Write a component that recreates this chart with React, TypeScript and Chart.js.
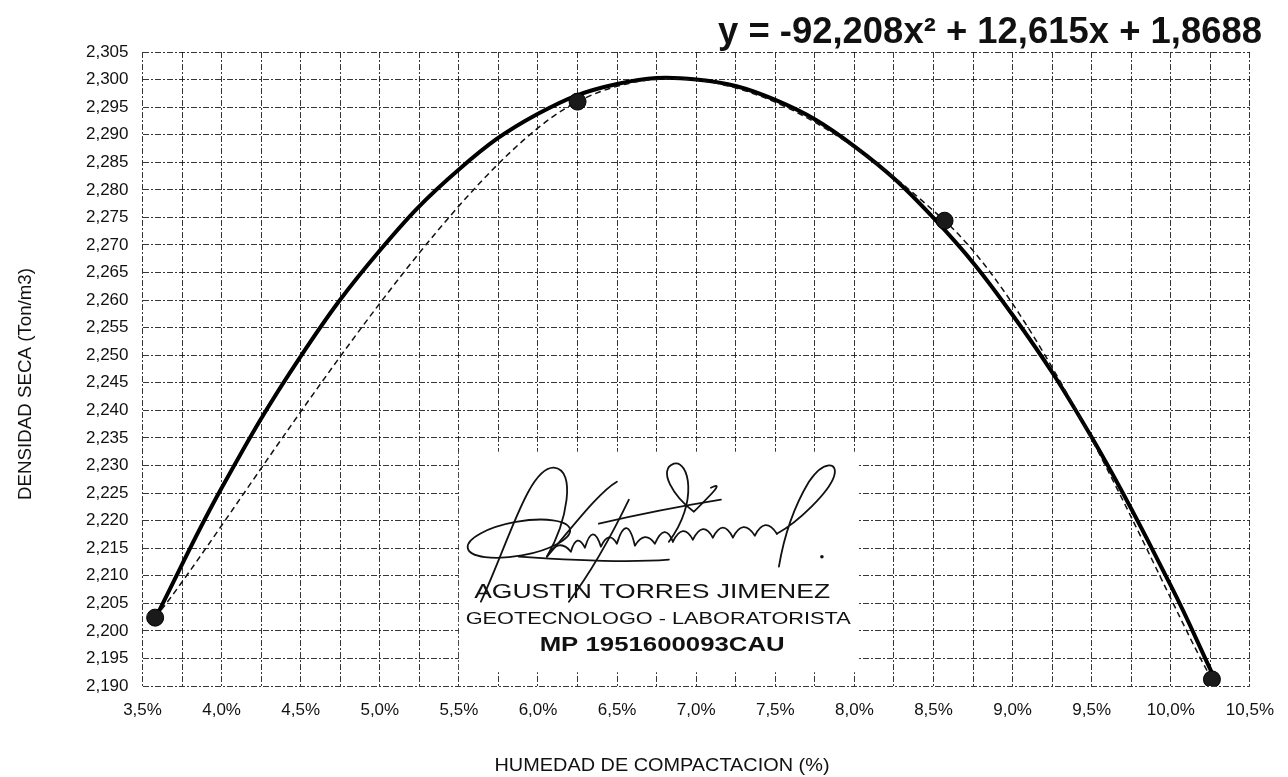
import React, { useEffect, useRef } from "react";
import { Chart, registerables } from "chart.js";

Chart.register(...registerables);

// Measured points (humedad %, densidad seca)
const humedad = [3.58, 6.25, 8.57, 10.26];
const densidad = [2.2024, 2.296, 2.2744, 2.1912];

// Polynomial trendline
const trendX = [3.58, 4.0, 4.5, 5.0, 5.5, 6.0, 6.5, 7.0, 7.5, 8.0, 8.5, 9.0, 9.5, 10.0, 10.26];
const trendY = [2.2022, 2.2259, 2.2498, 2.269, 2.2837, 2.2938, 2.2992, 2.3, 2.2963, 2.2879, 2.2749, 2.2573, 2.2351, 2.2082, 2.1924];

const xMin = 3.5;
const xMax = 10.5;
const xStep = 0.25;
const yMin = 2.19;
const yMax = 2.305;
const yStep = 0.005;

const equationText = "y = -92,208x² + 12,615x + 1,8688";
const xTitle = "HUMEDAD DE COMPACTACION (%)";
const yTitle = "DENSIDAD SECA (Ton/m3)";
const stampLines = ["AGUSTIN TORRES JIMENEZ", "GEOTECNOLOGO - LABORATORISTA", "MP 1951600093CAU"];

const FONT = "'Liberation Sans', Arial, sans-serif";

function fitText(ctx: CanvasRenderingContext2D, text: string, cx: number, by: number, width: number, font: string) {
  ctx.save();
  ctx.font = font;
  const w = ctx.measureText(text).width;
  ctx.translate(cx, by);
  ctx.scale(width / w, 1);
  ctx.textAlign = "center";
  ctx.textBaseline = "alphabetic";
  ctx.fillStyle = "#111";
  ctx.fillText(text, 0, 0);
  ctx.restore();
}

// Excel-style smoothed line: Catmull-Rom control points applied to Chart.js' own points
const smoothPlugin = {
  id: "excelSmooth",
  beforeDatasetDraw(chart: any, args: any) {
    if (args.index !== 0) return;
    const meta = args.meta;
    const line = meta.dataset;
    if (!line) return;
    line.updateControlPoints(chart.chartArea, "x");
    const pts = meta.data;
    const n = pts.length;
    for (let i = 0; i < n; i++) {
      const p = pts[i];
      const prev = pts[Math.max(0, i - 1)];
      const next = pts[Math.min(n - 1, i + 1)];
      const dx = (next.x - prev.x) / 6;
      const dy = (next.y - prev.y) / 6;
      p.cp1x = p.x - dx;
      p.cp1y = p.y - dy;
      p.cp2x = p.x + dx;
      p.cp2y = p.y + dy;
    }
    line._path = undefined;
  },
};

const decorPlugin = {
  id: "decor",
  beforeDatasetsDraw(chart: any) {
    const ctx: CanvasRenderingContext2D = chart.ctx;
    const xs = chart.scales.x;
    const ys = chart.scales.y;
    const left = xs.getPixelForValue(5.5);
    const right = xs.getPixelForValue(8.0) + 3;
    const top = ys.getPixelForValue(2.2325);
    const bottom = ys.getPixelForValue(2.1925);
    ctx.save();
    ctx.fillStyle = "#fff";
    ctx.fillRect(left, top, right - left, bottom - top);

    // signature (decorative)
    const ox = left;
    const oy = top;
    ctx.strokeStyle = "#111";
    ctx.lineWidth = 1.8;
    ctx.lineJoin = "round";
    ctx.lineCap = "round";
    ctx.beginPath();
    ctx.ellipse(ox + 60, oy + 87, 52, 17, -0.18, 0, Math.PI * 2);
    ctx.stroke();
    ctx.beginPath();
    ctx.moveTo(ox + 22, oy + 150);
    ctx.bezierCurveTo(ox + 50, oy + 90, ox + 70, oy + 15, ox + 95, oy + 16);
    ctx.bezierCurveTo(ox + 118, oy + 18, ox + 108, oy + 70, ox + 88, oy + 105);
    ctx.bezierCurveTo(ox + 110, oy + 80, ox + 140, oy + 40, ox + 158, oy + 30);
    ctx.stroke();
    ctx.beginPath();
    ctx.moveTo(ox + 88, oy + 105);
    ctx.quadraticCurveTo(ox + 100, oy + 85, ox + 112, oy + 100);
    ctx.quadraticCurveTo(ox + 118, oy + 80, ox + 126, oy + 96);
    ctx.quadraticCurveTo(ox + 134, oy + 70, ox + 142, oy + 95);
    ctx.quadraticCurveTo(ox + 150, oy + 78, ox + 158, oy + 92);
    ctx.quadraticCurveTo(ox + 168, oy + 60, ox + 176, oy + 94);
    ctx.quadraticCurveTo(ox + 186, oy + 78, ox + 196, oy + 92);
    ctx.quadraticCurveTo(ox + 206, oy + 70, ox + 214, oy + 90);
    ctx.stroke();
    ctx.beginPath();
    ctx.moveTo(ox + 110, oy + 150);
    ctx.quadraticCurveTo(ox + 140, oy + 110, ox + 170, oy + 48);
    ctx.stroke();
    ctx.beginPath();
    ctx.moveTo(ox + 210, oy + 90);
    ctx.bezierCurveTo(ox + 240, oy + 50, ox + 230, oy + 8, ox + 215, oy + 12);
    ctx.bezierCurveTo(ox + 198, oy + 18, ox + 215, oy + 45, ox + 235, oy + 60);
    ctx.bezierCurveTo(ox + 255, oy + 40, ox + 265, oy + 30, ox + 252, oy + 36);
    ctx.stroke();
    ctx.beginPath();
    ctx.moveTo(ox + 140, oy + 72);
    ctx.quadraticCurveTo(ox + 200, oy + 58, ox + 262, oy + 48);
    ctx.stroke();
    ctx.beginPath();
    ctx.moveTo(ox + 214, oy + 90);
    ctx.quadraticCurveTo(ox + 224, oy + 70, ox + 234, oy + 88);
    ctx.quadraticCurveTo(ox + 244, oy + 68, ox + 254, oy + 86);
    ctx.quadraticCurveTo(ox + 264, oy + 66, ox + 274, oy + 86);
    ctx.quadraticCurveTo(ox + 284, oy + 66, ox + 296, oy + 84);
    ctx.quadraticCurveTo(ox + 306, oy + 64, ox + 318, oy + 82);
    ctx.stroke();
    ctx.beginPath();
    ctx.moveTo(ox + 318, oy + 82);
    ctx.bezierCurveTo(ox + 340, oy + 70, ox + 370, oy + 40, ox + 375, oy + 25);
    ctx.bezierCurveTo(ox + 380, oy + 10, ox + 365, oy + 8, ox + 350, oy + 30);
    ctx.bezierCurveTo(ox + 335, oy + 55, ox + 325, oy + 85, ox + 320, oy + 115);
    ctx.stroke();
    ctx.beginPath();
    ctx.moveTo(ox + 210, oy + 108);
    ctx.quadraticCurveTo(ox + 160, oy + 112, ox + 60, oy + 105);
    ctx.stroke();
    ctx.beginPath();
    ctx.arc(ox + 363, oy + 105, 1.8, 0, Math.PI * 2);
    ctx.fillStyle = "#111";
    ctx.fill();
    ctx.restore();

    // stamp texts
    const cx = (left + right) / 2;
    fitText(ctx, stampLines[0], cx - 6, oy + 146, 356, `21px ${FONT}`);
    fitText(ctx, stampLines[1], cx, oy + 172, 385, `17px ${FONT}`);
    fitText(ctx, stampLines[2], cx + 4, oy + 199, 245, `bold 20px ${FONT}`);
  },
  afterDraw(chart: any) {
    const ctx: CanvasRenderingContext2D = chart.ctx;
    // equation
    fitText(ctx, equationText, 990, 43, 544, `bold 36px ${FONT}`);
    // x title
    fitText(ctx, xTitle, 662, 771, 335, `19px ${FONT}`);
    // y title (rotated)
    ctx.save();
    ctx.translate(31, 384);
    ctx.rotate(-Math.PI / 2);
    fitText(ctx, yTitle, 0, 0, 232, `19px ${FONT}`);
    ctx.restore();
  },
};

export default function App() {
  const ref = useRef<HTMLCanvasElement | null>(null);
  useEffect(() => {
    document.body.style.margin = "0";
    const canvas = ref.current!;
    const gridColor = "rgba(20,20,20,0.85)";
    const chart = new Chart(canvas, {
      type: "scatter",
      data: {
        datasets: [
          {
            label: "Ensayo",
            data: humedad.map((x, i) => ({ x, y: densidad[i] })),
            showLine: true,
            borderColor: "#111",
            borderWidth: 1.5,
            borderDash: [6, 4],
            tension: 0.4,
            capBezierPoints: false,
            pointRadius: 8.5,
            pointBackgroundColor: "#1a1a1a",
            pointBorderColor: "#000",
            pointBorderWidth: 1,
            order: 0,
          },
          {
            label: "Tendencia",
            data: trendX.map((x, i) => ({ x, y: trendY[i] })),
            showLine: true,
            borderColor: "#000",
            borderWidth: 4,
            tension: 0.4,
            pointRadius: 0,
            order: 1,
          },
        ],
      },
      options: {
        responsive: false,
        animation: false,
        events: [],
        layout: { padding: { top: 52, right: 38, left: 0, bottom: 0 } },
        plugins: { legend: { display: false }, tooltip: { enabled: false }, title: { display: false } },
        scales: {
          x: {
            type: "linear",
            min: xMin,
            max: xMax,
            afterFit(scale: any) {
              scale.height = 91;
            },
            ticks: {
              stepSize: xStep,
              autoSkip: false,
              maxRotation: 0,
              padding: 14,
              color: "#111",
              font: { family: FONT, size: 17 },
              callback: (v: any, i: number) => (i % 2 === 0 ? Number(v).toFixed(1).replace(".", ",") + "%" : ""),
            },
            grid: { color: gridColor, lineWidth: 1, drawTicks: false },
            border: { display: false, dash: [6, 2, 2, 2] },
          },
          y: {
            type: "linear",
            min: yMin,
            max: yMax,
            afterFit(scale: any) {
              scale.width = 142.5;
            },
            ticks: {
              stepSize: yStep,
              autoSkip: false,
              padding: 14,
              color: "#111",
              font: { family: FONT, size: 17 },
              callback: (v: any) => Number(v).toFixed(3).replace(".", ","),
            },
            grid: { color: gridColor, lineWidth: 1, drawTicks: false },
            border: { display: false, dash: [6, 2, 2, 2] },
          },
        },
      },
      plugins: [decorPlugin, smoothPlugin],
    });
    return () => chart.destroy();
  }, []);
  return (
    <div style={{ width: 1288, height: 777, background: "#fff" }}>
      <canvas ref={ref} width={1288} height={777} style={{ display: "block" }} />
    </div>
  );
}
